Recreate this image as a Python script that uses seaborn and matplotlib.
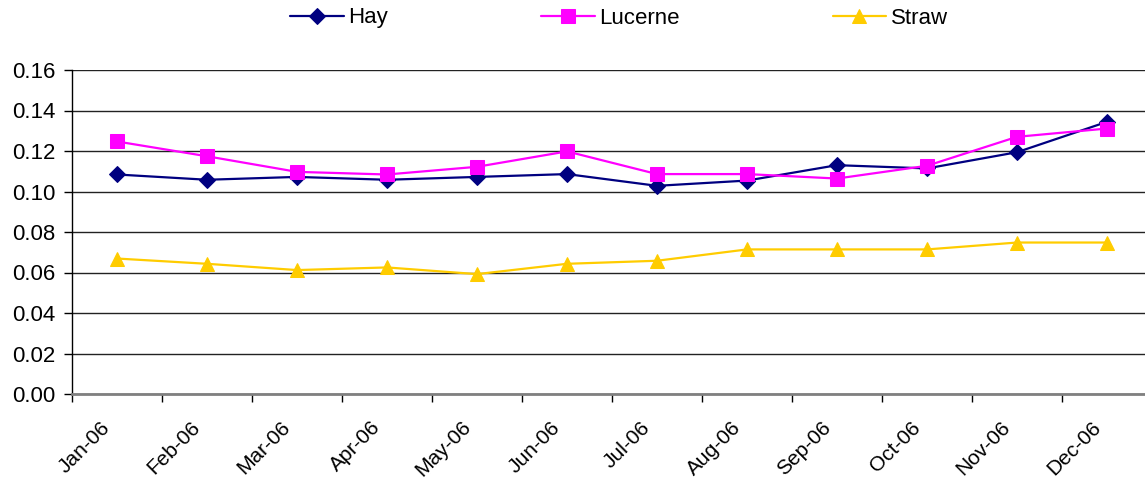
import matplotlib
matplotlib.use("Agg")
import matplotlib.pyplot as plt
import numpy as np
import pandas as pd
import seaborn as sns

months = ["Jan-06", "Feb-06", "Mar-06", "Apr-06", "May-06", "Jun-06",
          "Jul-06", "Aug-06", "Sep-06", "Oct-06", "Nov-06", "Dec-06"]
hay = [0.1084, 0.1058, 0.1072, 0.1058, 0.1072, 0.1086,
       0.1028, 0.1054, 0.1130, 0.1114, 0.1194, 0.1344]
lucerne = [0.1247, 0.1174, 0.1097, 0.1084, 0.1122, 0.1198,
           0.1086, 0.1086, 0.1064, 0.1127, 0.1270, 0.1311]
straw = [0.0669, 0.0643, 0.0612, 0.0625, 0.0592, 0.0643,
         0.0658, 0.0714, 0.0714, 0.0714, 0.0748, 0.0748]
y_ticks = [0.00, 0.02, 0.04, 0.06, 0.08, 0.10, 0.12, 0.14, 0.16]

sns.set_style("white")
plt.rcParams['font.family'] = ['Liberation Sans', 'DejaVu Sans']
plt.rcParams['text.color'] = 'black'
plt.rcParams['xtick.color'] = 'black'
plt.rcParams['ytick.color'] = 'black'

df = pd.DataFrame({"pos": np.arange(len(months)), "Hay": hay,
                   "Lucerne": lucerne, "Straw": straw})

fig = plt.figure(figsize=(11.45, 4.79), dpi=100)
ax = fig.add_axes([72 / 1145, 85 / 479, 1080 / 1145, 324 / 479])

series = [("Hay", "#000080", "D", 8.5),
          ("Lucerne", "#FF00FF", "s", 9.5),
          ("Straw", "#FFCC00", "^", 10)]
for name, col, mk, ms in series:
    sns.lineplot(data=df, x="pos", y=name, ax=ax, color=col, marker=mk,
                 markersize=ms, markeredgecolor=col, linewidth=1.6,
                 label=name, legend=False)

ax.set_xlim(-0.5, 11.5)
ax.set_ylim(0, 0.16)
ax.set_yticks(y_ticks)
ax.set_yticklabels(["%.2f" % v for v in y_ticks], fontsize=16)
ax.yaxis.grid(True, color="#222222", linewidth=1)
ax.set_axisbelow(True)

# category boundaries get the tick marks, labels sit a little left of centre
ax.set_xticks(np.arange(-0.5, 11.6, 1))
ax.set_xticklabels([])
ax.set_xticks(np.arange(len(months)) - 0.18, minor=True)
ax.set_xticklabels(months, minor=True, rotation=45, ha="right",
                   rotation_mode="anchor", fontsize=15)
ax.tick_params(axis="x", which="minor", length=0, pad=17, labelcolor="black")
ax.tick_params(axis="x", which="major", length=6, width=1, color="#000000",
               direction="out", bottom=True)
ax.tick_params(axis="y", length=6, width=1, color="#000000",
               direction="out", left=True, pad=6, labelcolor="black")
ax.set_xlabel("")
ax.set_ylabel("")

for s in ["top", "right"]:
    ax.spines[s].set_visible(False)
ax.spines["left"].set_color("#000000")
ax.spines["left"].set_linewidth(1)
ax.spines["bottom"].set_color("#808080")
ax.spines["bottom"].set_linewidth(2)

handles, labels = ax.get_legend_handles_labels()
leg = fig.legend(handles, labels, loc="center", bbox_to_anchor=(619 / 1145, 1 - 18 / 479),
                 ncol=3, frameon=False, fontsize=16, handlelength=2.4,
                 handletextpad=0.2, columnspacing=6.9)
for t in leg.get_texts():
    t.set_color("black")

fig.savefig("out.png", dpi=100)
